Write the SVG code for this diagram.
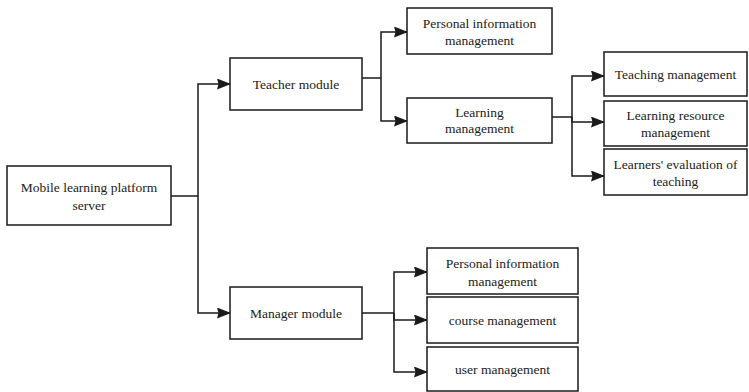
<svg xmlns="http://www.w3.org/2000/svg" width="749" height="392" viewBox="0 0 749 392">
  <style>
    .box { fill: #ffffff; stroke: #1a1a1a; stroke-width: 1.5; }
    .lbl { font-family: "Liberation Serif", "Times New Roman", serif; font-size: 13.5px; fill: #222222; text-anchor: middle; }
    .wire { fill: none; stroke: #1a1a1a; stroke-width: 1.5; }
  </style>
  <defs>
    <marker id="arrow" markerUnits="userSpaceOnUse" markerWidth="14" markerHeight="12" refX="13" refY="5.5" orient="auto">
      <path d="M0,0 L14,5.5 L0,11 L1.5,5.5 z" fill="#1a1a1a"/>
    </marker>
  </defs>
  <rect width="749" height="392" fill="#ffffff"/>

  <g id="connectors">
    <path class="wire" d="M171,196 H198"/>
    <path class="wire" d="M198,196 V84 H230" marker-end="url(#arrow)"/>
    <path class="wire" d="M198,196 V313 H230" marker-end="url(#arrow)"/>
    <path class="wire" d="M362,78 H381"/>
    <path class="wire" d="M381,78 V32 H407" marker-end="url(#arrow)"/>
    <path class="wire" d="M381,78 V121 H407" marker-end="url(#arrow)"/>
    <path class="wire" d="M552,117 H572"/>
    <path class="wire" d="M572,117 V76 H604" marker-end="url(#arrow)"/>
    <path class="wire" d="M572,117 V122 H604" marker-end="url(#arrow)"/>
    <path class="wire" d="M572,117 V176 H604" marker-end="url(#arrow)"/>
    <path class="wire" d="M362,313 H394"/>
    <path class="wire" d="M394,313 V272 H427" marker-end="url(#arrow)"/>
    <path class="wire" d="M394,313 V320 H427" marker-end="url(#arrow)"/>
    <path class="wire" d="M394,313 V372 H427" marker-end="url(#arrow)"/>
  </g>

  <g id="server">
    <rect class="box" x="7" y="166" width="164" height="59"/>
    <text class="lbl" x="89" y="192">Mobile learning platform</text>
    <text class="lbl" x="89" y="210">server</text>
  </g>

  <g id="teacher-module">
    <rect class="box" x="230" y="58" width="132" height="52"/>
    <text class="lbl" x="296" y="89">Teacher module</text>
  </g>

  <g id="teacher-personal-info">
    <rect class="box" x="407" y="8" width="145" height="46"/>
    <text class="lbl" x="479.5" y="28">Personal information</text>
    <text class="lbl" x="479.5" y="45">management</text>
  </g>

  <g id="learning-management">
    <rect class="box" x="407" y="98" width="145" height="45"/>
    <text class="lbl" x="479.5" y="117">Learning</text>
    <text class="lbl" x="479.5" y="133">management</text>
  </g>

  <g id="teaching-management">
    <rect class="box" x="604" y="52" width="143" height="44"/>
    <text class="lbl" x="675.5" y="79">Teaching management</text>
  </g>

  <g id="learning-resource-management">
    <rect class="box" x="604" y="101" width="143" height="45"/>
    <text class="lbl" x="675.5" y="120">Learning resource</text>
    <text class="lbl" x="675.5" y="137">management</text>
  </g>

  <g id="learners-evaluation">
    <rect class="box" x="604" y="149" width="143" height="46"/>
    <text class="lbl" x="675.5" y="169">Learners' evaluation of</text>
    <text class="lbl" x="675.5" y="186">teaching</text>
  </g>

  <g id="manager-module">
    <rect class="box" x="230" y="287" width="132" height="52"/>
    <text class="lbl" x="296" y="318">Manager module</text>
  </g>

  <g id="manager-personal-info">
    <rect class="box" x="427" y="248" width="151" height="46"/>
    <text class="lbl" x="502.5" y="268">Personal information</text>
    <text class="lbl" x="502.5" y="286">management</text>
  </g>

  <g id="course-management">
    <rect class="box" x="427" y="297" width="151" height="46"/>
    <text class="lbl" x="502.5" y="325">course management</text>
  </g>

  <g id="user-management">
    <rect class="box" x="427" y="347" width="151" height="44"/>
    <text class="lbl" x="502.5" y="374">user management</text>
  </g>
</svg>
